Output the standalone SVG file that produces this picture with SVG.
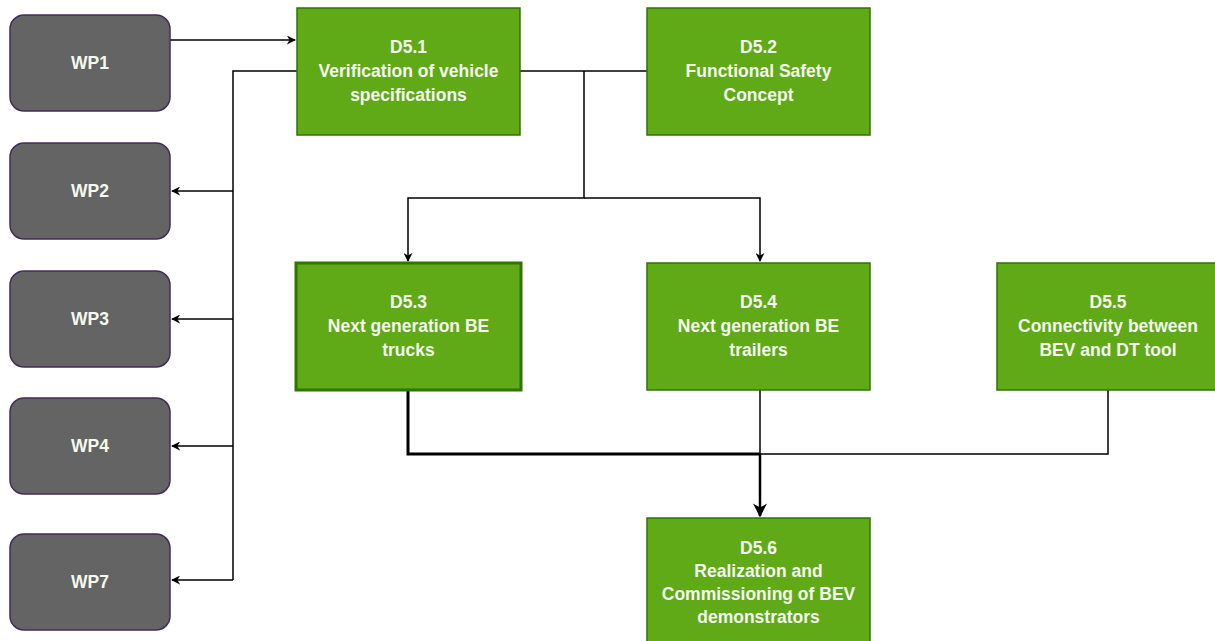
<svg xmlns="http://www.w3.org/2000/svg" width="1215" height="641" viewBox="0 0 1215 641">
<defs>
<style>
.wp{fill:#646464;stroke:#432D57;stroke-width:1.5}
.d{fill:#60A917;stroke:#2D7600;stroke-width:1.5}
.t{font-family:"Liberation Sans",Arial,sans-serif;font-weight:bold;font-size:17.5px;fill:#f4f8ef;text-anchor:middle}
.c{fill:none;stroke:#000;stroke-width:1.5}
</style>
<marker id="a" viewBox="0 0 10 10" refX="9" refY="5" markerWidth="9" markerHeight="9" markerUnits="userSpaceOnUse" orient="auto">
<path d="M0,0 L10,5 L0,10 L3,5 Z" fill="#000"/>
</marker>
<marker id="b" viewBox="0 0 10 10" refX="9" refY="5" markerWidth="14" markerHeight="14" markerUnits="userSpaceOnUse" orient="auto">
<path d="M0,0 L10,5 L0,10 L3,5 Z" fill="#000"/>
</marker>
</defs>
<rect width="1215" height="641" fill="#fff"/>
<g id="connectors">
<path class="c" d="M170,40 H295" marker-end="url(#a)"/>
<path class="c" d="M297,71 H233 V580"/>
<path class="c" d="M233,191 H172" marker-end="url(#a)"/>
<path class="c" d="M233,319 H172" marker-end="url(#a)"/>
<path class="c" d="M233,446 H172" marker-end="url(#a)"/>
<path class="c" d="M233,580 H172" marker-end="url(#a)"/>
<path class="c" d="M520,71 H647"/>
<path class="c" d="M584,71 V198 H408 V261" marker-end="url(#a)"/>
<path class="c" d="M584,198 H760 V261" marker-end="url(#a)"/>
<path class="c" d="M408,390 V454 H760" style="stroke-width:3"/>
<path class="c" d="M760,390 V454"/>
<path class="c" d="M1108,390 V454 H760"/>
<path class="c" d="M760,454 V516" style="stroke-width:2.5" marker-end="url(#b)"/>
</g>
<g id="WP1"><rect class="wp" x="10" y="15" width="160" height="96" rx="14"/><text class="t" x="90" y="69">WP1</text></g>
<g id="WP2"><rect class="wp" x="10" y="143" width="160" height="96" rx="14"/><text class="t" x="90" y="197">WP2</text></g>
<g id="WP3"><rect class="wp" x="10" y="271" width="160" height="96" rx="14"/><text class="t" x="90" y="325">WP3</text></g>
<g id="WP4"><rect class="wp" x="10" y="398" width="160" height="96" rx="14"/><text class="t" x="90" y="452">WP4</text></g>
<g id="WP7"><rect class="wp" x="10" y="534" width="160" height="96" rx="14"/><text class="t" x="90" y="588">WP7</text></g>
<g id="D5.1"><rect class="d" x="297" y="8" width="223" height="127"/>
<text class="t" x="408.5" y="53">D5.1</text><text class="t" x="408.5" y="77">Verification of vehicle</text><text class="t" x="408.5" y="101">specifications</text></g>
<g id="D5.2"><rect class="d" x="647" y="8" width="223" height="127"/>
<text class="t" x="758.5" y="53">D5.2</text><text class="t" x="758.5" y="77">Functional Safety</text><text class="t" x="758.5" y="101">Concept</text></g>
<g id="D5.3"><rect class="d" x="296" y="263" width="225" height="127" style="stroke-width:3"/>
<text class="t" x="408.5" y="308">D5.3</text><text class="t" x="408.5" y="332">Next generation BE</text><text class="t" x="408.5" y="356">trucks</text></g>
<g id="D5.4"><rect class="d" x="647" y="263" width="223" height="127"/>
<text class="t" x="758.5" y="308">D5.4</text><text class="t" x="758.5" y="332">Next generation BE</text><text class="t" x="758.5" y="356">trailers</text></g>
<g id="D5.5"><rect class="d" x="997" y="263" width="222" height="127"/>
<text class="t" x="1108" y="308">D5.5</text><text class="t" x="1108" y="332">Connectivity between</text><text class="t" x="1108" y="356">BEV and DT tool</text></g>
<g id="D5.6"><rect class="d" x="647" y="518" width="223" height="130"/>
<text class="t" x="758.5" y="554">D5.6</text><text class="t" x="758.5" y="577">Realization and</text><text class="t" x="758.5" y="600">Commissioning of BEV</text><text class="t" x="758.5" y="623">demonstrators</text></g>
</svg>
